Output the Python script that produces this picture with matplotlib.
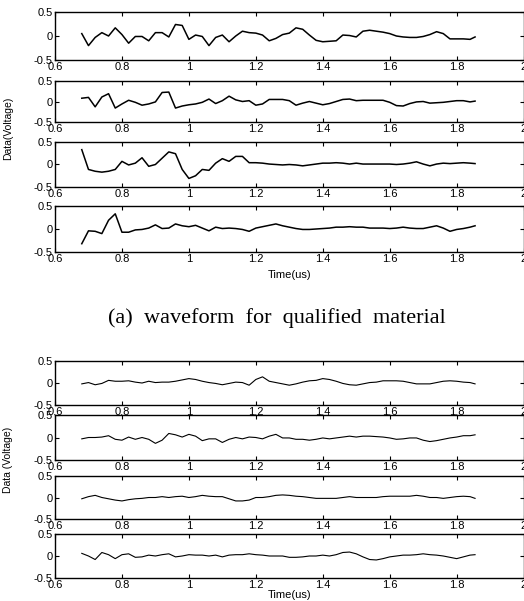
import matplotlib
matplotlib.use("Agg")
import matplotlib.pyplot as plt
from matplotlib import font_manager

# sample times (us)
time_us = [0.68, 0.70, 0.72, 0.74, 0.76, 0.78, 0.80, 0.82, 0.84, 0.86,
           0.88, 0.90, 0.92, 0.94, 0.96, 0.98, 1.00, 1.02, 1.04, 1.06,
           1.08, 1.10, 1.12, 1.14, 1.16, 1.18, 1.20, 1.22, 1.24, 1.26,
           1.28, 1.30, 1.32, 1.34, 1.36, 1.38, 1.40, 1.42, 1.44, 1.46,
           1.48, 1.50, 1.52, 1.54, 1.56, 1.58, 1.60, 1.62, 1.64, 1.66,
           1.68, 1.70, 1.72, 1.74, 1.76, 1.78, 1.80, 1.82, 1.84, 1.855]

# (a) qualified material, channels 1-4
qual_1 = [0.05, -0.20, -0.03, 0.07, 0.00, 0.17, 0.03, -0.15, -0.01, -0.01,
          -0.10, 0.07, 0.07, -0.02, 0.24, 0.22, -0.07, 0.02, -0.01, -0.20,
          -0.03, 0.02, -0.12, 0.00, 0.10, 0.07, 0.06, 0.02, -0.10, -0.05,
          0.03, 0.06, 0.17, 0.14, 0.02, -0.09, -0.12, -0.11, -0.10, 0.02,
          0.01, -0.02, 0.10, 0.12, 0.10, 0.08, 0.05, 0.00, -0.02, -0.03,
          -0.03, -0.01, 0.03, 0.09, 0.05, -0.06, -0.06, -0.06, -0.07, -0.02]
qual_2 = [0.08, 0.10, -0.13, 0.11, 0.19, -0.16, -0.06, 0.03, -0.02, -0.09,
          -0.06, -0.01, 0.22, 0.23, -0.16, -0.11, -0.08, -0.06, -0.02, 0.06,
          -0.05, 0.02, 0.13, 0.04, 0.00, 0.02, -0.09, -0.06, 0.05, 0.05,
          0.05, 0.02, -0.09, -0.04, 0.00, -0.04, -0.08, -0.05, 0.00, 0.05,
          0.06, 0.02, 0.03, 0.03, 0.03, 0.03, -0.02, -0.10, -0.11, -0.05,
          -0.01, 0.00, -0.04, -0.03, -0.02, 0.00, 0.02, 0.02, -0.01, 0.01]
qual_3 = [0.33, -0.11, -0.15, -0.17, -0.15, -0.11, 0.07, -0.01, 0.03, 0.15,
          -0.04, 0.00, 0.14, 0.28, 0.24, -0.11, -0.31, -0.25, -0.11, -0.13,
          0.03, 0.13, 0.07, 0.18, 0.18, 0.04, 0.04, 0.03, 0.01, 0.00,
          -0.01, 0.00, -0.01, -0.03, -0.01, 0.01, 0.03, 0.03, 0.04, 0.03,
          0.01, 0.03, 0.01, 0.01, 0.01, 0.01, 0.01, 0.00, 0.01, 0.03,
          0.06, 0.01, -0.03, 0.01, 0.03, 0.02, 0.03, 0.04, 0.03, 0.02]
qual_4 = [-0.32, -0.04, -0.05, -0.10, 0.19, 0.33, -0.07, -0.07, -0.02, -0.01,
          0.02, 0.09, 0.01, 0.02, 0.11, 0.07, 0.05, 0.08, 0.02, -0.04,
          0.04, 0.01, 0.02, 0.01, -0.01, -0.05, 0.02, 0.05, 0.08, 0.11,
          0.07, 0.04, 0.01, -0.01, -0.01, 0.00, 0.01, 0.02, 0.04, 0.04,
          0.05, 0.04, 0.04, 0.02, 0.02, 0.02, 0.01, 0.02, 0.04, 0.02,
          0.01, 0.01, 0.04, 0.07, 0.02, -0.05, -0.01, 0.01, 0.04, 0.07]

# (b) second material, channels 1-4
other_1 = [-0.02, 0.01, -0.04, -0.01, 0.06, 0.04, 0.04, 0.05, 0.02, 0.00,
           0.04, 0.01, 0.02, 0.02, 0.04, 0.07, 0.10, 0.08, 0.04, 0.01,
           -0.01, -0.04, -0.01, 0.02, 0.01, -0.05, 0.08, 0.14, 0.04, 0.01,
           -0.02, -0.05, -0.02, 0.02, 0.05, 0.06, 0.10, 0.08, 0.04, -0.01,
           -0.04, -0.05, -0.02, 0.01, 0.02, 0.05, 0.05, 0.05, 0.04, 0.01,
           -0.02, -0.02, -0.02, 0.01, 0.04, 0.05, 0.04, 0.02, 0.01, -0.02]
other_2 = [-0.03, 0.00, 0.00, 0.01, 0.04, -0.04, -0.06, 0.01, -0.04, 0.00,
           -0.04, -0.13, -0.06, 0.09, 0.06, 0.01, 0.07, 0.03, -0.07, -0.03,
           -0.03, -0.11, -0.04, 0.00, -0.03, 0.01, 0.00, -0.03, 0.03, 0.07,
           -0.01, -0.01, -0.04, -0.04, -0.06, -0.04, -0.01, -0.03, -0.01, 0.01,
           0.03, 0.01, 0.03, 0.03, 0.02, 0.01, -0.01, -0.04, -0.03, -0.01,
           -0.01, -0.06, -0.09, -0.07, -0.04, -0.01, 0.01, 0.04, 0.04, 0.06]
other_3 = [-0.03, 0.02, 0.05, 0.00, -0.03, -0.06, -0.08, -0.05, -0.03, -0.02,
           0.00, 0.00, 0.02, 0.00, 0.02, 0.03, 0.00, 0.02, 0.05, 0.03,
           0.02, 0.02, -0.03, -0.08, -0.08, -0.06, 0.00, 0.00, 0.02, 0.05,
           0.06, 0.05, 0.03, 0.02, 0.00, -0.02, -0.02, -0.02, -0.02, 0.00,
           0.02, 0.00, 0.00, 0.00, 0.00, 0.02, 0.03, 0.03, 0.03, 0.03,
           0.05, 0.03, 0.00, 0.00, -0.02, 0.00, 0.02, 0.03, 0.02, -0.02]
other_4 = [0.06, 0.00, -0.08, 0.08, 0.03, -0.06, 0.03, 0.05, -0.03, -0.02,
           0.02, 0.00, 0.03, 0.05, -0.02, 0.00, 0.03, 0.02, 0.02, 0.00,
           0.02, -0.02, 0.02, 0.03, 0.03, 0.05, 0.03, 0.02, 0.00, 0.00,
           0.00, -0.03, -0.03, -0.02, 0.00, 0.00, 0.02, 0.00, 0.03, 0.08,
           0.09, 0.05, -0.02, -0.08, -0.09, -0.06, -0.02, 0.00, 0.02, 0.02,
           0.03, 0.05, 0.03, 0.02, 0.00, -0.03, -0.06, -0.02, 0.02, 0.03]

x_ticks = [0.6, 0.8, 1.0, 1.2, 1.4, 1.6, 1.8, 2.0]
x_tick_labels = ["0.6", "0.8", "1", "1.2", "1.4", "1.6", "1.8", "2"]
y_ticks = [-0.5, 0, 0.5]
y_tick_labels = ["-0.5", "0", "0.5"]


def pick_font(names, default):
    for name in names:
        try:
            font_manager.findfont(name, fallback_to_default=False)
            return name
        except Exception:
            pass
    return default


sans = pick_font(["Liberation Sans", "Arial"], "DejaVu Sans")
narrow = pick_font(["Liberation Sans Narrow", "Arial Narrow"], sans)
serif = pick_font(["Liberation Serif", "Times New Roman"], "DejaVu Serif")

W, H = 524, 601
fig = plt.figure(figsize=(W / 100, H / 100), dpi=100)

# panel boxes in pixels: (top, bottom)
boxes = [(12, 60), (81, 122), (142, 187), (206, 252),
         (361, 405), (415, 460), (476, 519), (534, 578)]
series = [qual_1, qual_2, qual_3, qual_4, other_1, other_2, other_3, other_4]
left_px, right_px = 55, 523.6


def add_panel(top, bottom, values, lw):
    ax = fig.add_axes([left_px / W, 1 - bottom / H,
                       (right_px - left_px) / W, (bottom - top) / H])
    ax.plot(time_us, values, color="black", lw=lw)
    ax.set_xlim(0.6, 2.0)
    ax.set_ylim(-0.5, 0.5)
    ax.set_xticks(x_ticks)
    ax.set_xticklabels(x_tick_labels, fontsize=8, family=sans)
    ax.set_yticks(y_ticks)
    ax.set_yticklabels(y_tick_labels, fontsize=8, family=sans)
    ax.tick_params(direction="in", length=3, width=0.8, top=True, right=True, pad=1.5)
    for s in ax.spines.values():
        s.set_linewidth(1.0)
    return ax


for i, ((top, bottom), vals) in enumerate(zip(boxes, series)):
    ax = add_panel(top, bottom, vals, 1.1 if i < 4 else 0.8)
    if i == 3:
        ax.set_xlabel("Time(us)", fontsize=8, family=sans, labelpad=4)
    if i == 7:
        ax.set_xlabel("Time(us)", fontsize=8, family=sans, labelpad=0)

fig.text(8 / W, 1 - 128 / H, "Data(Voltage)", rotation=90, fontsize=7.5,
         family=narrow, ha="center", va="center")
fig.text(8 / W, 1 - 460 / H, "Data (Voltage)", rotation=90, fontsize=7.5,
         family=narrow, ha="center", va="center")
fig.text(277 / W, 1 - 318 / H, "(a)  waveform  for  qualified  material",
         fontsize=16, family=serif, ha="center", va="center")

fig.savefig("out.png", dpi=100)
